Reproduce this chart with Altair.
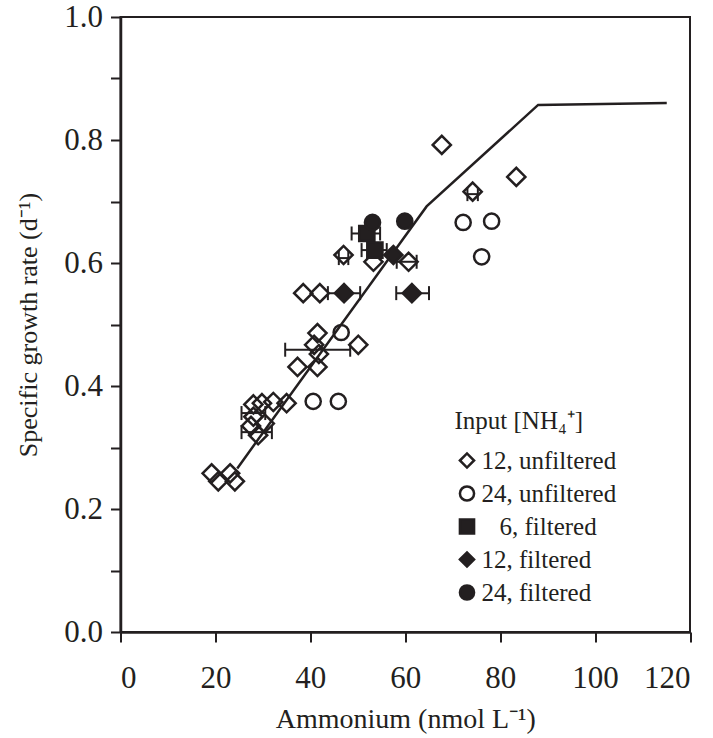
import altair as alt
import pandas as pd

FONT = "Liberation Serif"
INK = "#231f20"

# ---- data ----
# 12, unfiltered (open diamonds)
u12_x = [67.7, 83.4, 74.2, 60.7, 53.3, 47.0, 38.5, 42.0, 41.5, 50.1, 40.8, 41.8,
         37.3, 41.5, 35.0, 32.2, 29.8, 28.0, 28.0, 30.4, 29.0, 27.5, 19.2, 20.6, 23.1, 24.1]
u12_y = [0.792, 0.740, 0.716, 0.602, 0.602, 0.613, 0.551, 0.551, 0.486, 0.467, 0.467, 0.452,
         0.431, 0.431, 0.372, 0.374, 0.372, 0.370, 0.350, 0.339, 0.320, 0.335, 0.258, 0.245, 0.258, 0.245]
# 24, unfiltered (open circles)
u24_x = [72.2, 78.2, 76.1, 46.5, 40.6, 45.9]
u24_y = [0.666, 0.668, 0.610, 0.487, 0.375, 0.375]
# 6, filtered (filled squares)
f6_x = [51.9, 53.6]
f6_y = [0.648, 0.621]
# 12, filtered (filled diamonds)
f12_x = [57.5, 47.1, 61.4]
f12_y = [0.613, 0.551, 0.551]
# 24, filtered (filled circles)
f24_x = [53.1, 59.9]
f24_y = [0.666, 0.668]

# horizontal error bars
err_lo = [58.2, 58.1, 43.7, 48.7, 50.8, 34.7, 25.5, 25.5, 73.1, 46.0]
err_hi = [62.4, 65.0, 50.5, 54.7, 56.1, 48.4, 30.5, 31.9, 75.3, 48.0]
err_y = [0.602, 0.551, 0.551, 0.648, 0.621, 0.459, 0.356, 0.325, 0.712, 0.608]

# model curve
line_x = [24.6, 64.5, 88.0, 115.1]
line_y = [0.266, 0.692, 0.857, 0.860]

groups = ["12, unfiltered", "24, unfiltered", "\u28006, filtered", "12, filtered", "24, filtered"]
shapes = ["diamond", "circle", "square", "diamond", "circle"]
fills = ["transparent", "transparent", INK, INK, INK]
strokes = [INK] * 5
sizes = {"diamond": 330, "circle": 230, "square": 230}

rows = []
for g, xs, ys in zip(groups, [u12_x, u24_x, f6_x, f12_x, f24_x], [u12_y, u24_y, f6_y, f12_y, f24_y]):
    for x, y in zip(xs, ys):
        rows.append({"x": x, "y": y, "group": g, "sz": sizes[shapes[groups.index(g)]]})
pts = pd.DataFrame(rows)
errs = pd.DataFrame({"lo": err_lo, "hi": err_hi, "y": err_y})
curve = pd.DataFrame({"x": line_x, "y": line_y})

xscale = alt.Scale(domain=[0, 120], nice=False, zero=False)
yscale = alt.Scale(domain=[0, 1.0], nice=False, zero=False)

xaxis = alt.Axis(values=[0, 20, 40, 60, 80, 100, 120], format="d", grid=False,
                 title="Ammonium (nmol L\u207b\u00b9)")
yaxis = alt.Axis(values=[0, 0.1, 0.2, 0.3, 0.4, 0.5, 0.6, 0.7, 0.8, 0.9, 1.0], grid=False,
                 labelExpr="round(datum.value*10) % 2 == 0 ? format(datum.value, '.1f') : ''",
                 title="Specific growth rate (d\u207b\u00b9)")

line = alt.Chart(curve).mark_line(color=INK, strokeWidth=2.5).encode(
    x=alt.X("x:Q", scale=xscale, axis=xaxis),
    y=alt.Y("y:Q", scale=yscale, axis=yaxis),
)

bars = alt.Chart(errs).mark_rule(color=INK, strokeWidth=2).encode(
    x=alt.X("lo:Q", scale=xscale), x2="hi:Q", y=alt.Y("y:Q", scale=yscale)
)
cap_lo = alt.Chart(errs).mark_rule(color=INK, strokeWidth=2, yOffset=-7, y2Offset=7).encode(
    x=alt.X("lo:Q", scale=xscale), y=alt.Y("y:Q", scale=yscale), y2="y:Q"
)
cap_hi = alt.Chart(errs).mark_rule(color=INK, strokeWidth=2, yOffset=-7, y2Offset=7).encode(
    x=alt.X("hi:Q", scale=xscale), y=alt.Y("y:Q", scale=yscale), y2="y:Q"
)

TITLE = "Input [NH\u2084\u207a]"
leg = alt.Legend(title=TITLE)

points = alt.Chart(pts).mark_point(filled=True, strokeWidth=2.5, opacity=1).encode(
    x=alt.X("x:Q", scale=xscale),
    y=alt.Y("y:Q", scale=yscale),
    shape=alt.Shape("group:N", scale=alt.Scale(domain=groups, range=shapes), legend=leg),
    fill=alt.Fill("group:N", scale=alt.Scale(domain=groups, range=fills), legend=leg),
    stroke=alt.Stroke("group:N", scale=alt.Scale(domain=groups, range=strokes), legend=leg),
    size=alt.Size("sz:Q", scale=None),
)

chart = alt.layer(line, bars, cap_lo, cap_hi, points).properties(
    width=569.5, height=615,
    autosize=alt.AutoSizeParams(type="none"),
    padding={"left": 120.5, "top": 17, "right": 23, "bottom": 106},
).configure_view(
    stroke=INK, strokeWidth=2
).configure_axis(
    labelFont=FONT, titleFont=FONT, labelFontSize=31, titleFontSize=28,
    labelColor=INK, titleColor=INK, titleFontWeight="normal",
    domainColor=INK, domainWidth=2.5, tickColor=INK, tickWidth=2, tickSize=10,
).configure_axisX(
    labelPadding=21, titlePadding=12,
).configure_axisY(
    labelPadding=8, titlePadding=22, titleFontSize=26,
).configure_legend(
    orient="none", legendX=334, legendY=392,
    titleFont=FONT, labelFont=FONT, titleFontSize=25, labelFontSize=25,
    titleFontWeight="normal", titleColor=INK, labelColor=INK,
    symbolSize=200, symbolStrokeWidth=2.5, symbolOpacity=1,
    rowPadding=7, titlePadding=14, labelOffset=2, padding=0,
)

chart.save("out.html", embed_options={"renderer": "svg", "actions": False})
